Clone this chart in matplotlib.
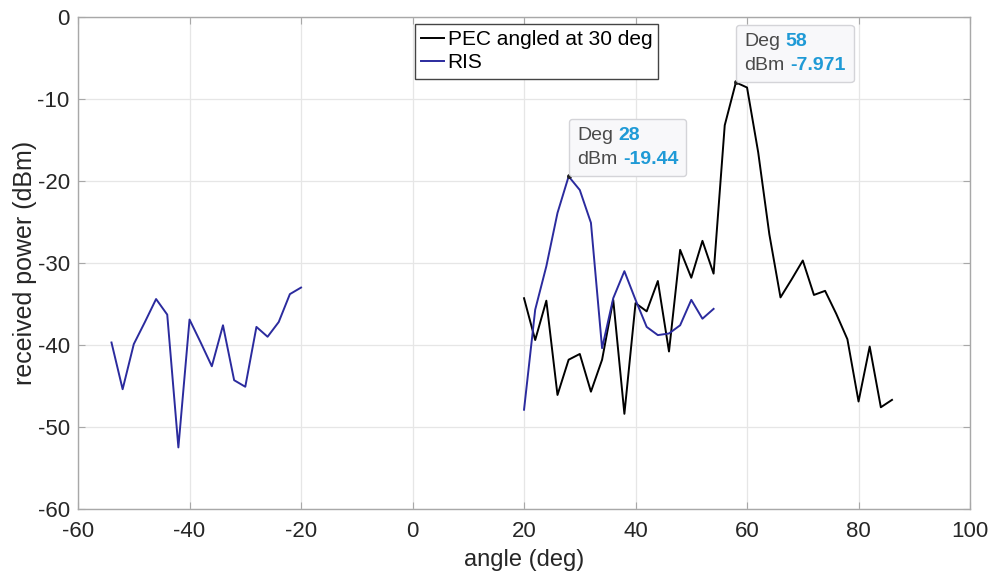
import matplotlib.pyplot as plt
from matplotlib.offsetbox import TextArea, HPacker, VPacker, AnnotationBbox

plt.rcParams['font.family'] = ['Liberation Sans', 'DejaVu Sans']
plt.rcParams['axes.unicode_minus'] = False

# PEC reflector measurement, 20..86 deg in 2 deg steps
pec_angle = list(range(20, 88, 2))
pec_power = [-34.3, -39.4, -34.6, -46.1, -41.8, -41.1, -45.7, -41.8, -34.5, -48.4,
             -34.9, -35.9, -32.2, -40.8, -28.4, -31.8, -27.3, -31.3, -13.2, -7.971,
             -8.6, -16.5, -26.5, -34.2, -32.0, -29.7, -33.9, -33.4, -36.2, -39.3,
             -46.9, -40.2, -47.6, -46.7]

# RIS measurement, two sweeps with a gap between -20 and 20 deg
ris_angle = list(range(-54, -18, 2)) + [None] + list(range(20, 56, 2))
ris_power = [-39.7, -45.4, -39.9, -37.2, -34.4, -36.3, -52.5, -36.9, -39.7, -42.6,
             -37.6, -44.3, -45.1, -37.8, -39.0, -37.2, -33.8, -33.0,
             None,
             -47.9, -35.7, -30.4, -23.9, -19.44, -21.1, -25.1, -40.4, -34.3, -31.0,
             -34.5, -37.8, -38.8, -38.6, -37.6, -34.5, -36.8, -35.6]
ris_angle = [float('nan') if a is None else a for a in ris_angle]
ris_power = [float('nan') if p is None else p for p in ris_power]

# data tips: (angle, power)
tips = [(28, -19.44), (58, -7.971)]

fig = plt.figure(figsize=(9.94, 5.77), dpi=100)
ax = fig.add_axes([0.0785, 0.118, 0.8974, 0.8525])

ax.plot(pec_angle, pec_power, color='black', lw=1.4, label='PEC angled at 30 deg')
ax.plot(ris_angle, ris_power, color='#2b2b9e', lw=1.4, label='RIS')

ax.set_xlim(-60, 100)
ax.set_ylim(-60, 0)
ax.set_xticks(range(-60, 101, 20))
ax.set_yticks(range(-60, 1, 10))

spine_c = '#a8a8a8'
for s in ax.spines.values():
    s.set_color(spine_c)
    s.set_linewidth(1.0)
ax.tick_params(direction='in', length=5, width=0.8, color=spine_c,
               top=True, right=True, labelsize=16, labelcolor='#262626')
ax.tick_params(axis='x', pad=9)
ax.tick_params(axis='y', pad=6)
ax.grid(True, color='#e6e6e6', lw=0.9)
ax.set_axisbelow(True)

ax.set_xlabel('angle (deg)', fontsize=17, color='#262626', labelpad=5)
ax.set_ylabel('received power (dBm)', fontsize=18, color='#262626', labelpad=0)

leg = ax.legend(loc='upper left', bbox_to_anchor=(0.378, 0.986), borderaxespad=0,
                fontsize=15, fancybox=False, framealpha=1, edgecolor='#444444',
                handlelength=1.1, handletextpad=0.15, borderpad=0.3,
                labelspacing=0.2)
leg.get_frame().set_linewidth(1.0)

# MATLAB-style data tips
for ang, pw in tips:
    ax.plot(ang, pw, marker='o', ms=2.5, color='#222222', zorder=5)
    gray = dict(color='#4a4a4a', fontsize=14)
    blue = dict(color='#1f9ad6', fontsize=14, fontweight='bold')
    row1 = HPacker(children=[TextArea('Deg', textprops=gray),
                             TextArea(f'{ang:g}', textprops=blue)], sep=4, pad=0)
    row2 = HPacker(children=[TextArea('dBm', textprops=gray),
                             TextArea(f'{pw:g}', textprops=blue)], sep=4, pad=0)
    box = VPacker(children=[row1, row2], sep=5, pad=6, align='left')
    ab = AnnotationBbox(box, (ang, pw), xycoords='data', xybox=(0, 0),
                        boxcoords='offset points', box_alignment=(0, 0),
                        pad=0, frameon=True,
                        bboxprops=dict(boxstyle='round,pad=0,rounding_size=0.25',
                                       fc='#f8f8fa', ec='#d4d4d8', lw=1.0))
    ab.set_zorder(6)
    ax.add_artist(ab)

fig.savefig('out.png', dpi=100)
